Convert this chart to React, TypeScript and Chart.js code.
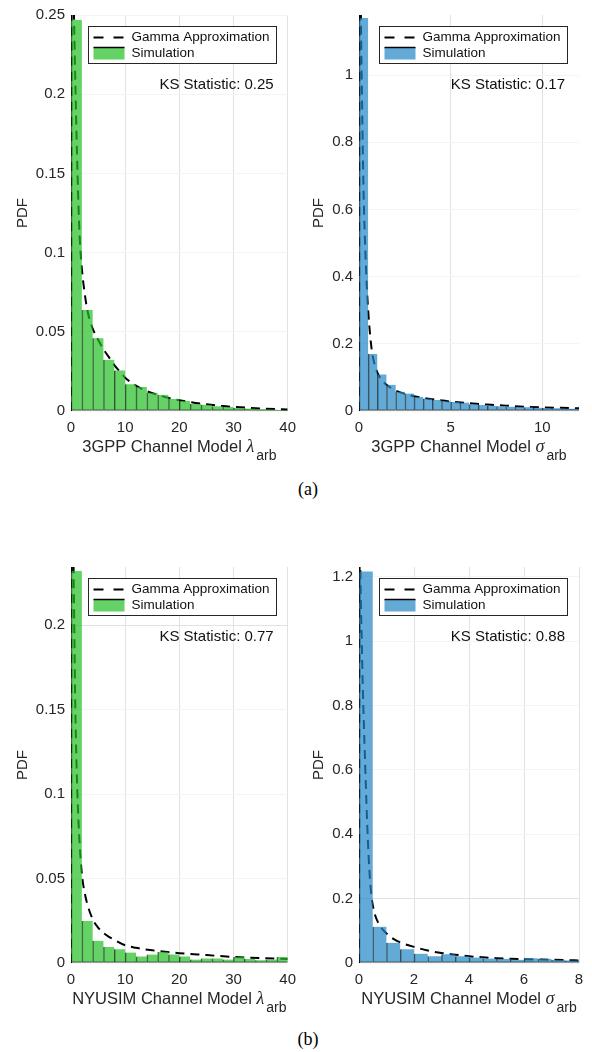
import React, { useEffect, useRef } from 'react';
import { Chart, registerables } from 'chart.js';

Chart.register(...registerables);

// ---------- Panel (a) left: 3GPP lambda_arb ----------
const lam3gppBinCenters = [1, 3, 5, 7, 9, 11, 13, 15, 17, 19, 21, 23, 25, 27, 29, 31, 33, 35, 37, 39];
const lam3gppSim = [0.247, 0.0638, 0.046, 0.0323, 0.0256, 0.0169, 0.0152, 0.0115, 0.0102, 0.0075, 0.0063, 0.0044, 0.004, 0.003, 0.0025, 0.0019, 0.0015, 0.0011, 0.0009, 0.0007];
const lam3gppGammaX = [0, 0.2, 0.55, 0.85, 1.2, 1.6, 2, 2.5, 3, 3.5, 4, 5, 6, 7, 8, 9, 10, 12, 14, 16, 18, 20, 22, 25, 28, 30, 35, 40];
const lam3gppGammaY = [0, 0.33, 0.25, 0.2, 0.15, 0.11, 0.09, 0.075, 0.064, 0.057, 0.052, 0.045, 0.039, 0.034, 0.029, 0.025, 0.021, 0.016, 0.0125, 0.0102, 0.0083, 0.0068, 0.0056, 0.0042, 0.0031, 0.0026, 0.0016, 0.001];
const lam3gppXTicks = [0, 10, 20, 30, 40];
const lam3gppYTicks = [0, 0.05, 0.1, 0.15, 0.2, 0.25];

// ---------- Panel (a) right: 3GPP sigma_arb ----------
const sig3gppBinCenters = [0.25, 0.75, 1.25, 1.75, 2.25, 2.75, 3.25, 3.75, 4.25, 4.75, 5.25, 5.75, 6.25, 6.75, 7.25, 7.75, 8.25, 8.75, 9.25, 9.75, 10.25, 10.75, 11.25, 11.75];
const sig3gppSim = [1.17, 0.17, 0.109, 0.078, 0.057, 0.052, 0.042, 0.037, 0.033, 0.029, 0.027, 0.025, 0.02, 0.018, 0.016, 0.014, 0.013, 0.012, 0.011, 0.01, 0.009, 0.008, 0.007, 0.007];
const sig3gppGammaX = [0, 0.05, 0.12, 0.16, 0.2, 0.25, 0.3, 0.4, 0.5, 0.6, 0.7, 0.8, 1, 1.25, 1.5, 2, 2.5, 3, 3.5, 4, 5, 6, 7, 8, 9, 10, 11, 12];
const sig3gppGammaY = [0, 1.4, 1.1, 0.95, 0.8, 0.65, 0.55, 0.4, 0.3, 0.23, 0.18, 0.15, 0.115, 0.092, 0.078, 0.061, 0.051, 0.044, 0.039, 0.035, 0.028, 0.023, 0.019, 0.016, 0.013, 0.011, 0.0095, 0.008];
const sig3gppXTicks = [0, 5, 10];
const sig3gppYTicks = [0, 0.2, 0.4, 0.6, 0.8, 1];

// ---------- Panel (b) left: NYUSIM lambda_arb ----------
const lamNyuBinCenters = [1, 3, 5, 7, 9, 11, 13, 15, 17, 19, 21, 23, 25, 27, 29, 31, 33, 35, 37, 39];
const lamNyuSim = [0.232, 0.0248, 0.0131, 0.0094, 0.0082, 0.0062, 0.0039, 0.005, 0.0066, 0.0051, 0.0039, 0.002, 0.0027, 0.0027, 0.002, 0.0035, 0.0023, 0.0016, 0.002, 0.0035];
const lamNyuGammaX = [0, 0.15, 0.45, 0.6, 0.8, 1, 1.3, 1.7, 2.1, 2.5, 3, 4, 5, 6, 7, 8, 10, 12, 15, 20, 25, 30, 35, 40];
const lamNyuGammaY = [0, 0.3, 0.24, 0.2, 0.15, 0.12, 0.09, 0.065, 0.05, 0.042, 0.035, 0.026, 0.021, 0.0178, 0.0155, 0.0137, 0.0105, 0.009, 0.0075, 0.0058, 0.0047, 0.0036, 0.0029, 0.0024];
const lamNyuXTicks = [0, 10, 20, 30, 40];
const lamNyuYTicks = [0, 0.05, 0.1, 0.15, 0.2];

// ---------- Panel (b) right: NYUSIM sigma_arb ----------
const sigNyuBinCenters = [0.25, 0.75, 1.25, 1.75, 2.25, 2.75, 3.25, 3.75, 4.25, 4.75, 5.25, 5.75, 6.25, 6.75, 7.25, 7.75];
const sigNyuSim = [1.217, 0.113, 0.063, 0.043, 0.029, 0.021, 0.027, 0.021, 0.017, 0.014, 0.013, 0.01, 0.015, 0.013, 0.01, 0.008];
const sigNyuGammaX = [0, 0.03, 0.05, 0.1, 0.15, 0.2, 0.25, 0.3, 0.35, 0.4, 0.45, 0.55, 0.7, 0.85, 1, 1.25, 1.5, 2, 2.5, 3, 3.5, 4, 5, 6, 7, 8];
const sigNyuGammaY = [0, 1.45, 1.23, 1.0, 0.82, 0.68, 0.55, 0.43, 0.33, 0.26, 0.21, 0.16, 0.125, 0.105, 0.092, 0.075, 0.064, 0.05, 0.039, 0.031, 0.026, 0.021, 0.015, 0.012, 0.01, 0.008];
const sigNyuXTicks = [0, 2, 4, 6, 8];
const sigNyuYTicks = [0, 0.2, 0.4, 0.6, 0.8, 1, 1.2];

const GREEN = 'rgba(34, 191, 34, 0.7)';
const BLUE = 'rgba(34, 134, 198, 0.7)';
const SANS = '"Liberation Sans", Arial, Helvetica, sans-serif';
const AXIS_TEXT = '#262626';

type PanelDef = {
  centers: number[];
  sim: number[];
  gx: number[];
  gy: number[];
  xTicks: number[];
  yTicks: number[];
  xMax: number;
  yMax: number;
  color: string;
  xTitle: string;
  sym: string;
  ks: string;
  strongH: number[];
};

const panels: { left: number; top: number; def: PanelDef }[] = [
  {
    left: 71, top: 11,
    def: { centers: lam3gppBinCenters, sim: lam3gppSim, gx: lam3gppGammaX, gy: lam3gppGammaY, xTicks: lam3gppXTicks, yTicks: lam3gppYTicks, xMax: 40, yMax: 0.25, color: GREEN, xTitle: '3GPP Channel Model ', sym: 'λ', ks: 'KS Statistic: 0.25', strongH: [] },
  },
  {
    left: 359, top: 11,
    def: { centers: sig3gppBinCenters, sim: sig3gppSim, gx: sig3gppGammaX, gy: sig3gppGammaY, xTicks: sig3gppXTicks, yTicks: sig3gppYTicks, xMax: 12, yMax: 1.179, color: BLUE, xTitle: '3GPP Channel Model ', sym: 'σ', ks: 'KS Statistic: 0.17', strongH: [] },
  },
  {
    left: 71, top: 563,
    def: { centers: lamNyuBinCenters, sim: lamNyuSim, gx: lamNyuGammaX, gy: lamNyuGammaY, xTicks: lamNyuXTicks, yTicks: lamNyuYTicks, xMax: 40, yMax: 0.2344, color: GREEN, xTitle: 'NYUSIM Channel Model ', sym: 'λ', ks: 'KS Statistic: 0.77', strongH: [0.2] },
  },
  {
    left: 359, top: 563,
    def: { centers: sigNyuBinCenters, sim: sigNyuSim, gx: sigNyuGammaX, gy: sigNyuGammaY, xTicks: sigNyuXTicks, yTicks: sigNyuYTicks, xMax: 8, yMax: 1.2308, color: BLUE, xTitle: 'NYUSIM Channel Model ', sym: 'σ', ks: 'KS Statistic: 0.88', strongH: [0.2] },
  },
];

const PAD_LEFT = 71;
const PAD_TOP = 11;
const PAD_RIGHT = 13;
const X_AXIS_H = 60;
const CANVAS_W = 220 + PAD_LEFT + PAD_RIGHT;
const CANVAS_H = 400 + PAD_TOP + X_AXIS_H;

const decorPlugin = {
  id: 'decor',
  afterDraw(chart: any, _args: any, opts: any) {
    const ctx: CanvasRenderingContext2D = chart.ctx;
    const ca = chart.chartArea;
    ctx.save();

    // Y title "PDF"
    ctx.font = `15px ${SANS}`;
    let widest = 0;
    for (const t of chart.scales.y.ticks) {
      widest = Math.max(widest, ctx.measureText(String(t.label)).width);
    }
    const yTitleX = ca.left - 6 - widest - 13;
    ctx.save();
    ctx.translate(yTitleX, (ca.top + ca.bottom) / 2);
    ctx.rotate(-Math.PI / 2);
    ctx.fillStyle = AXIS_TEXT;
    ctx.textAlign = 'center';
    ctx.textBaseline = 'middle';
    ctx.fillText('PDF', 0, 0);
    ctx.restore();

    // X title with subscript
    const mainFont = `16.5px ${SANS}`;
    const symFont = `italic 18px "Liberation Serif", "Times New Roman", serif`;
    const subFont = `14px ${SANS}`;
    ctx.font = mainFont;
    const wMain = ctx.measureText(opts.xTitle).width;
    ctx.font = symFont;
    const wSym = ctx.measureText(opts.sym).width;
    ctx.font = subFont;
    const wSub = ctx.measureText('arb').width;
    const total = wMain + wSym + 2 + wSub;
    let x0 = (ca.left + ca.right) / 2 - total / 2;
    const base = ca.bottom + 41;
    ctx.fillStyle = AXIS_TEXT;
    ctx.textAlign = 'left';
    ctx.textBaseline = 'alphabetic';
    ctx.font = mainFont;
    ctx.fillText(opts.xTitle, x0, base);
    x0 += wMain;
    ctx.font = symFont;
    ctx.fillText(opts.sym, x0, base);
    x0 += wSym + 2;
    ctx.font = subFont;
    ctx.fillText('arb', x0, base + 8);

    // KS statistic
    ctx.font = `15px ${SANS}`;
    ctx.fillStyle = '#111';
    ctx.textAlign = 'right';
    ctx.textBaseline = 'middle';
    ctx.fillText(opts.ks, ca.right - 14, ca.top + 70);

    // Legend box
    const bw = 188;
    const bh = 37;
    const bx = Math.round(ca.right - 12 - bw) + 0.5;
    const by = Math.round(ca.top + 11) + 0.5;
    ctx.fillStyle = '#ffffff';
    ctx.fillRect(bx, by, bw, bh);
    ctx.strokeStyle = '#262626';
    ctx.lineWidth = 1;
    ctx.setLineDash([]);
    ctx.strokeRect(bx, by, bw, bh);

    const lineDs = chart.data.datasets[1];
    const barDs = chart.data.datasets[0];
    const r1 = by + 11;
    const r2 = by + 27;
    ctx.strokeStyle = '#000';
    ctx.lineWidth = 2;
    ctx.setLineDash([10, 10]);
    ctx.beginPath();
    ctx.moveTo(bx + 5, r1);
    ctx.lineTo(bx + 36, r1);
    ctx.stroke();
    ctx.setLineDash([]);

    ctx.fillStyle = barDs.backgroundColor;
    ctx.fillRect(bx + 5, r2 - 6, 31, 12);
    ctx.strokeStyle = '#000';
    ctx.lineWidth = 1.5;
    ctx.beginPath();
    ctx.moveTo(bx + 5, r2 - 6);
    ctx.lineTo(bx + 36, r2 - 6);
    ctx.stroke();

    ctx.font = `13.5px ${SANS}`;
    ctx.fillStyle = '#111';
    ctx.textAlign = 'left';
    ctx.textBaseline = 'middle';
    ctx.fillText(lineDs.label, bx + 43, r1);
    ctx.fillText(barDs.label, bx + 43, r2);

    ctx.restore();
  },
};

function Panel({ left, top, def }: { left: number; top: number; def: PanelDef }) {
  const ref = useRef<HTMLCanvasElement | null>(null);
  useEffect(() => {
    if (!ref.current) return;
    const tickFont = { family: SANS, size: 15 };
    const chart = new Chart(ref.current, {
      type: 'bar',
      data: {
        datasets: [
          {
            type: 'bar',
            label: 'Simulation',
            data: def.centers.map((c, i) => ({ x: c, y: def.sim[i] })),
            backgroundColor: def.color,
            borderColor: 'rgba(0,0,0,0.7)',
            borderWidth: { left: 1, top: 0, right: 0, bottom: 1 },
            borderSkipped: false,
            barPercentage: 1,
            categoryPercentage: 1,
            grouped: false,
            order: 0,
          } as any,
          {
            type: 'line',
            label: 'Gamma Approximation',
            data: def.gx.map((x, i) => ({ x, y: def.gy[i] })),
            borderColor: '#000',
            borderWidth: 2,
            borderDash: [9, 6],
            pointRadius: 0,
            fill: false,
            tension: 0,
            cubicInterpolationMode: 'monotone',
            order: 1,
          } as any,
        ],
      },
      options: {
        responsive: false,
        animation: false,
        events: [],
        layout: { padding: { top: PAD_TOP, right: PAD_RIGHT, left: 0, bottom: 0 } },
        plugins: {
          legend: { display: false },
          tooltip: { enabled: false },
          decor: { xTitle: def.xTitle, sym: def.sym, ks: def.ks },
        } as any,
        scales: {
          x: {
            type: 'linear',
            min: 0,
            max: def.xMax,
            offset: false,
            grid: { offset: false, color: '#e2e2e2', drawTicks: false, lineWidth: 1 },
            border: { display: false },
            ticks: {
              padding: 8,
              font: tickFont,
              color: AXIS_TEXT,
              callback: (v: any) => String(v),
              maxRotation: 0,
              includeBounds: false,
            },
            afterBuildTicks: (s: any) => {
              s.ticks = def.xTicks.map((v) => ({ value: v }));
            },
            afterFit: (s: any) => {
              s.height = X_AXIS_H;
            },
          } as any,
          y: {
            type: 'linear',
            min: 0,
            max: def.yMax,
            grid: {
              drawTicks: false,
              lineWidth: 1,
              color: (c: any) => (c.tick && def.strongH.includes(c.tick.value) ? '#e2e2e2' : '#f4f4f4'),
            },
            border: { display: false },
            ticks: {
              padding: 6,
              font: tickFont,
              color: AXIS_TEXT,
              callback: (v: any) => String(v),
              includeBounds: false,
            },
            afterBuildTicks: (s: any) => {
              s.ticks = def.yTicks.map((v) => ({ value: v }));
            },
            afterFit: (s: any) => {
              s.width = PAD_LEFT;
            },
          } as any,
        },
      },
      plugins: [decorPlugin],
    } as any);
    return () => chart.destroy();
  }, [def]);

  return (
    <canvas
      ref={ref}
      width={CANVAS_W}
      height={CANVAS_H}
      style={{ position: 'absolute', left: left - PAD_LEFT, top: top - PAD_TOP, width: CANVAS_W, height: CANVAS_H }}
    />
  );
}

const captionStyle: React.CSSProperties = {
  position: 'absolute',
  width: 60,
  textAlign: 'center',
  font: '18px "Liberation Serif", "Times New Roman", serif',
  lineHeight: '22px',
  color: '#000',
};

export default function App() {
  return (
    <div style={{ position: 'absolute', left: 0, top: 0, width: 592, height: 1052, background: '#fff', overflow: 'hidden' }}>
      {panels.map((p, i) => (
        <Panel key={i} left={p.left} top={p.top} def={p.def} />
      ))}
      <div style={{ ...captionStyle, left: 278, top: 478 }}>(a)</div>
      <div style={{ ...captionStyle, left: 278, top: 1028 }}>(b)</div>
    </div>
  );
}
